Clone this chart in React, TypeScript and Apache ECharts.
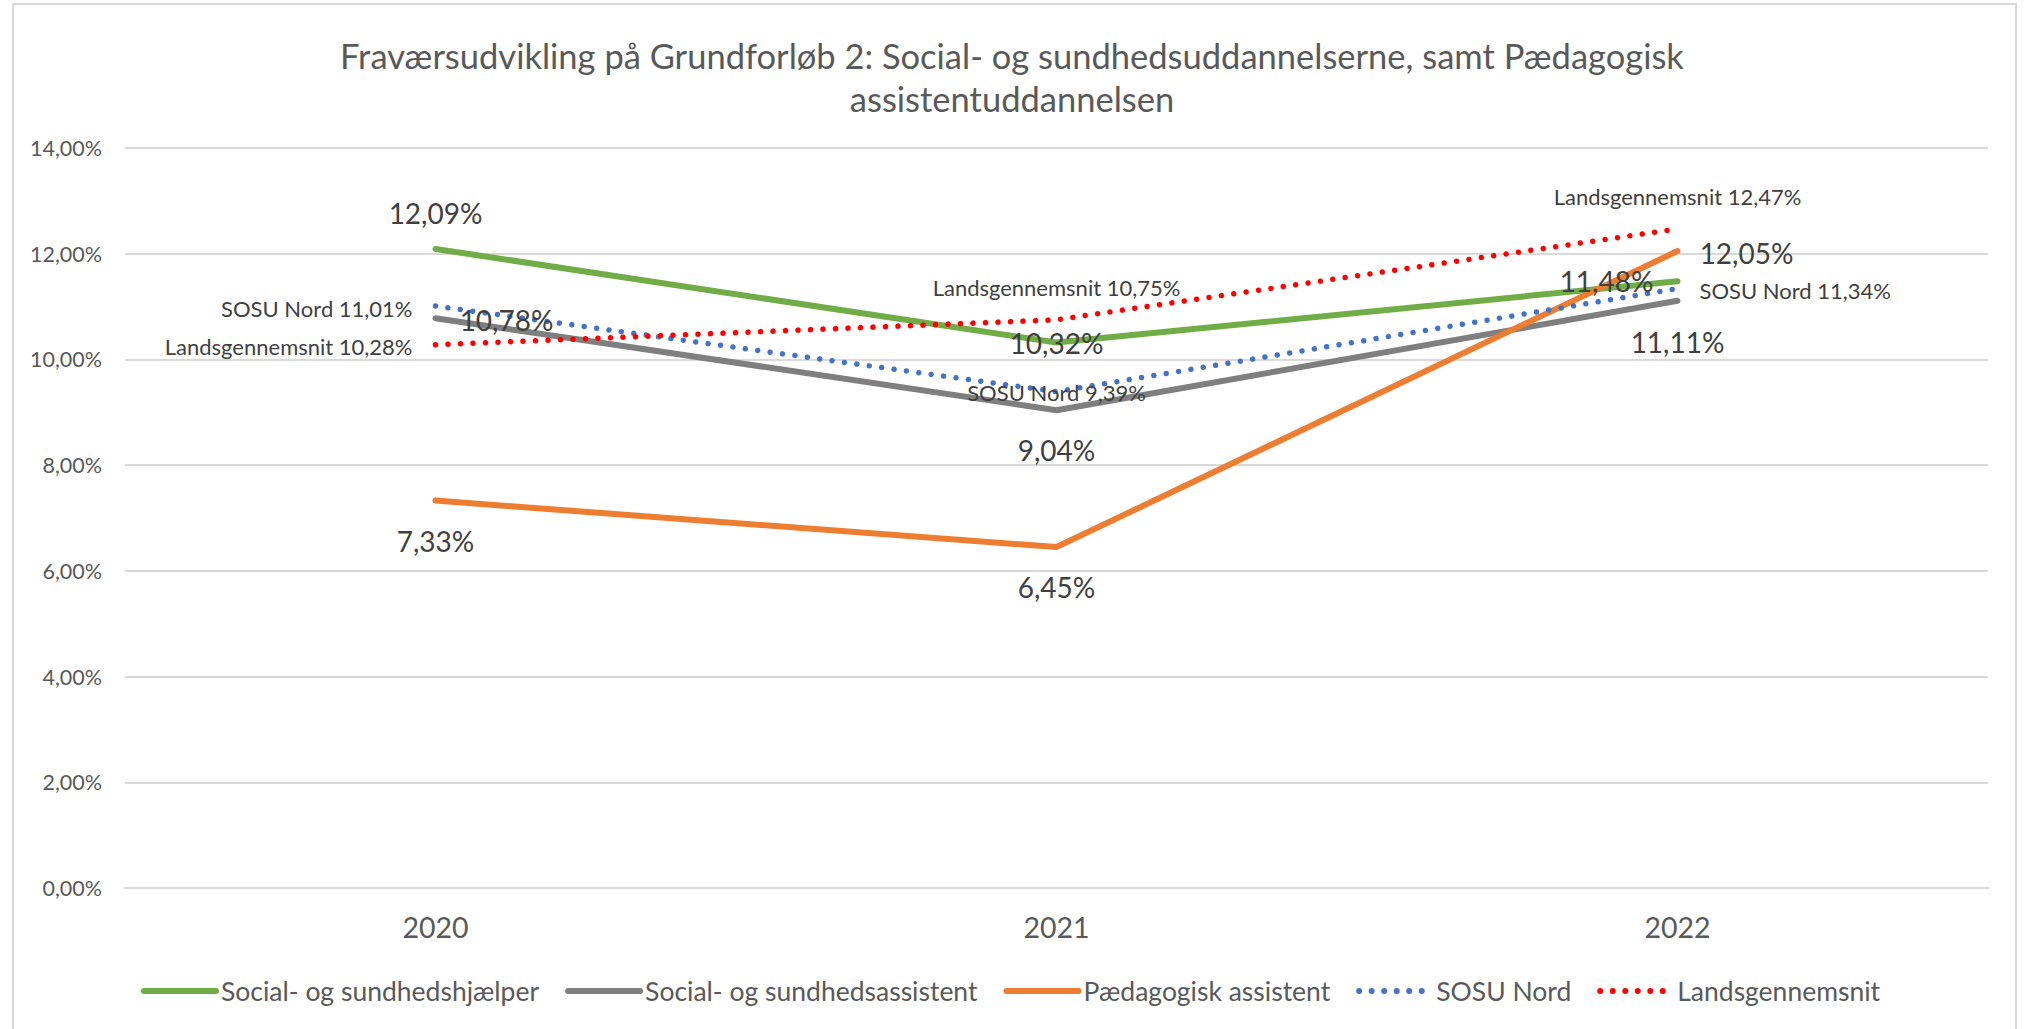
import React, { useEffect, useRef } from "react";
import * as echarts from "echarts";

const years = ["2020", "2021", "2022"];
const hjaelper = [12.09, 10.32, 11.48];
const assistent = [10.78, 9.04, 11.11];
const paedagogisk = [7.33, 6.45, 12.05];
const sosuNord = [11.01, 9.39, 11.34];
const landsgennemsnit = [10.28, 10.75, 12.47];

const yMin = 0;
const yMax = 14;
const yStep = 2;

const titleText =
  "Fraværsudvikling på Grundforløb 2: Social- og sundhedsuddannelserne, samt Pædagogisk\nassistentuddannelsen";

const FONT = "Lato, 'Open Sans', sans-serif";
const fmt = (v: number) => v.toFixed(2).replace(".", ",") + "%";

type Place = { dx: number; dy: number; align?: string };

const seriesDefs: {
  name: string;
  values: number[];
  color: string;
  dotted: boolean;
  prefix: string;
  places: Place[];
}[] = [
  {
    name: "Social- og sundhedshjælper",
    values: hjaelper,
    color: "#70AD47",
    dotted: false,
    prefix: "",
    places: [
      { dx: 0, dy: -36 },
      { dx: 0, dy: 0 },
      { dx: -71, dy: 0 },
    ],
  },
  {
    name: "Social- og sundhedsassistent",
    values: assistent,
    color: "#7F7F7F",
    dotted: false,
    prefix: "",
    places: [
      { dx: 71, dy: 2 },
      { dx: 0, dy: 40 },
      { dx: 0, dy: 41 },
    ],
  },
  {
    name: "Pædagogisk assistent",
    values: paedagogisk,
    color: "#ED7D31",
    dotted: false,
    prefix: "",
    places: [
      { dx: 0, dy: 40 },
      { dx: 0, dy: 40 },
      { dx: 69, dy: 2 },
    ],
  },
  {
    name: "SOSU Nord",
    values: sosuNord,
    color: "#4472C4",
    dotted: true,
    prefix: "SOSU Nord",
    places: [
      { dx: -23, dy: 2, align: "right" },
      { dx: 0, dy: 1 },
      { dx: 22, dy: 2, align: "left" },
    ],
  },
  {
    name: "Landsgennemsnit",
    values: landsgennemsnit,
    color: "#FF0000",
    dotted: true,
    prefix: "Landsgennemsnit",
    places: [
      { dx: -23, dy: 2, align: "right" },
      { dx: 0, dy: -32 },
      { dx: 0, dy: -32 },
    ],
  },
];

export default function App() {
  const ref = useRef<HTMLDivElement>(null);

  useEffect(() => {
    if (!ref.current) return;
    const chart = echarts.init(ref.current, undefined, { renderer: "svg" });
    const option: any = {
      animation: false,
      backgroundColor: "#FFFFFF",
      textStyle: { fontFamily: FONT },
      title: {
        text: titleText,
        left: "center",
        top: 29,
        textStyle: {
          fontFamily: FONT,
          fontSize: 34.5,
          fontWeight: "normal",
          color: "#595959",
          lineHeight: 43,
        },
      },
      graphic: [
        {
          type: "rect",
          shape: { x: 13, y: 4, width: 2003, height: 1040 },
          style: { fill: "none", stroke: "#D9D9D9", lineWidth: 2 },
          silent: true,
        },
      ],
      grid: { left: 125, right: 36, top: 148, bottom: 141, containLabel: false },
      xAxis: {
        type: "category",
        data: years,
        boundaryGap: true,
        axisLine: { show: true, lineStyle: { color: "#D9D9D9", width: 2 } },
        axisTick: { show: false },
        axisLabel: {
          fontFamily: FONT,
          fontSize: 28.5,
          color: "#595959",
          margin: 24,
        },
      },
      yAxis: {
        type: "value",
        min: yMin,
        max: yMax,
        interval: yStep,
        axisLine: { show: false },
        axisTick: { show: false },
        splitLine: { show: true, lineStyle: { color: "#D9D9D9", width: 2 } },
        axisLabel: {
          fontFamily: FONT,
          fontSize: 21.5,
          color: "#595959",
          margin: 23,
          formatter: (v: number) => fmt(v),
        },
      },
      legend: {
        left: 141,
        top: 975,
        padding: 0,
        itemWidth: 72,
        itemHeight: 14,
        itemGap: 26,
        lineStyle: { width: 6 },
        itemStyle: { opacity: 0 },
        textStyle: {
          fontFamily: FONT,
          fontSize: 26.5,
          color: "#595959",
          lineHeight: 32,
        },
        data: seriesDefs.map((s) => s.name),
      },
      series: seriesDefs.map((s) => ({
        name: s.name,
        type: "line",
        symbol: "circle",
        symbolSize: 1,
        showSymbol: true,
        itemStyle: {
          color: "rgba(0,0,0,0)",
          borderWidth: 0,
          borderColor: "rgba(0,0,0,0)",
        },
        lineStyle: {
          color: s.color,
          width: s.dotted ? 5.5 : 6,
          type: s.dotted ? [0.01, 12.5] : "solid",
          cap: "round",
          join: "round",
        },
        emphasis: { disabled: true },
        data: s.values.map((v, i) => {
          const p = s.places[i];
          return {
            value: v,
            label: {
              show: true,
              position: "inside",
              offset: [p.dx, p.dy],
              align: p.align || "center",
              verticalAlign: "middle",
              formatter: s.prefix ? `${s.prefix} ${fmt(v)}` : fmt(v),
              fontFamily: FONT,
              fontSize: s.prefix ? 22 : 28,
              color: "#404040",
            },
          };
        }),
      })),
    };
    chart.setOption(option);
    return () => chart.dispose();
  }, []);

  return (
    <div
      ref={ref}
      style={{
        position: "absolute",
        left: 0,
        top: 0,
        width: 2024,
        height: 1029,
        background: "#FFFFFF",
      }}
    />
  );
}
